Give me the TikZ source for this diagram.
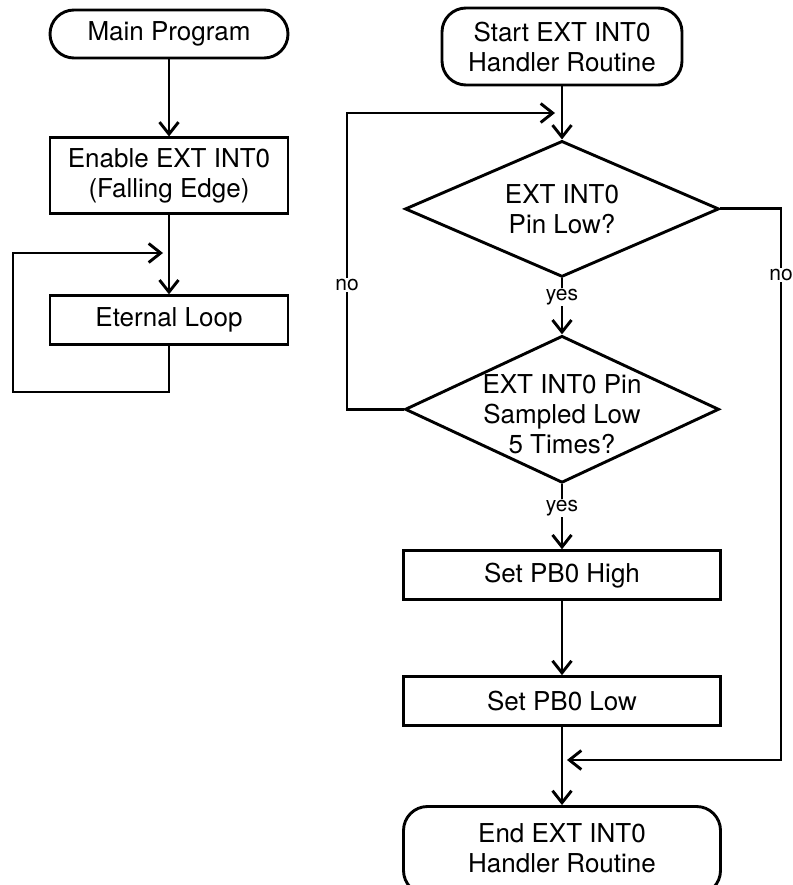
\documentclass[tikz,border=0pt]{standalone}
\usepackage{fontspec}
\setmainfont{TeX Gyre Heros}
\usetikzlibrary{positioning}
\usetikzlibrary{shapes}
\usetikzlibrary{arrows.meta}
\tikzset{
  flowtext/.style = {align=center, font=\fontsize{26}{30}\selectfont},
  term/.style = {flowtext, draw=black, rectangle, rounded corners=24pt, inner sep=2pt},% start / end
  proc/.style = {flowtext, draw=black, rectangle, inner sep=2pt},% plain step
  decision/.style = {draw=black, diamond, inner sep=0pt},% test, text goes in a label
  lbl/.style = {fill=white, inner sep=1pt, font=\fontsize{21}{24}\selectfont},% yes / no
}

\begin{document}
\begin{tikzpicture}[x=1pt,y=-1pt,->,>={Straight Barb[length=12pt,width=19pt]},line width=2.9pt]
\useasboundingbox (0,0) rectangle (792,885);
% main program
\node [term, minimum width=238pt, minimum height=48pt] (main) at (169,34) {Main Program};
\node [proc, minimum width=238pt, minimum height=76pt, below=77pt of main] (enable) {Enable EXT INT0\\(Falling Edge)};
\node [proc, minimum width=238pt, minimum height=49pt, below=79pt of enable] (loop) {Eternal Loop};
% handler routine
\node [term, minimum width=240pt, minimum height=77pt] (start) at (562,46.5) {Start EXT INT0\\Handler Routine};
\node [decision, minimum width=314pt, minimum height=136pt, below=53pt of start,
  label={[flowtext]center:EXT INT0\\Pin Low?}] (pinlow) {};
\node [decision, minimum width=314pt, minimum height=147pt, below=56pt of pinlow,
  label={[flowtext, yshift=-5pt]center:EXT INT0 Pin\\Sampled Low\\5 Times?}] (sampled) {};
\node [proc, minimum width=317pt, minimum height=49pt, below=65pt of sampled] (high) {Set PB0 High};
\node [proc, minimum width=317pt, minimum height=49pt, below=74pt of high] (low) {Set PB0 Low};
\node [term, minimum width=317pt, minimum height=88pt, below=78pt of low,
  label={[flowtext, yshift=2pt]center:End EXT INT0\\Handler Routine}] (end) {};% runs off the page

% loose ends of the wires
\coordinate (loopL) at (13,392);
\coordinate (loopIn) at (163,253);
\coordinate (backL) at (347,113);
\coordinate (backIn) at (555,113);
\coordinate (sideR) at (781,760);
\coordinate (endIn) at (567,760);

\draw (main) -- (enable);
\draw (enable) -- (loop);
\draw (loop.south) |- (loopL) |- (loopIn);

\draw (start) -- (pinlow);
\draw (pinlow) -- node [lbl, pos=0.34] {yes} (sampled);
\draw (sampled) -- node [lbl, pos=0.36] {yes} (high);
\draw (high) -- (low);
\draw (low) -- (end);
\draw (sampled.west) -- (sampled.west -| backL) -- node [lbl, pos=0.42] {no} (backL) -- (backIn);
\draw (pinlow.east) -- (pinlow.east -| sideR) -- node [lbl, pos=0.12] {no} (sideR) -- (endIn);
\end{tikzpicture}
\end{document}
